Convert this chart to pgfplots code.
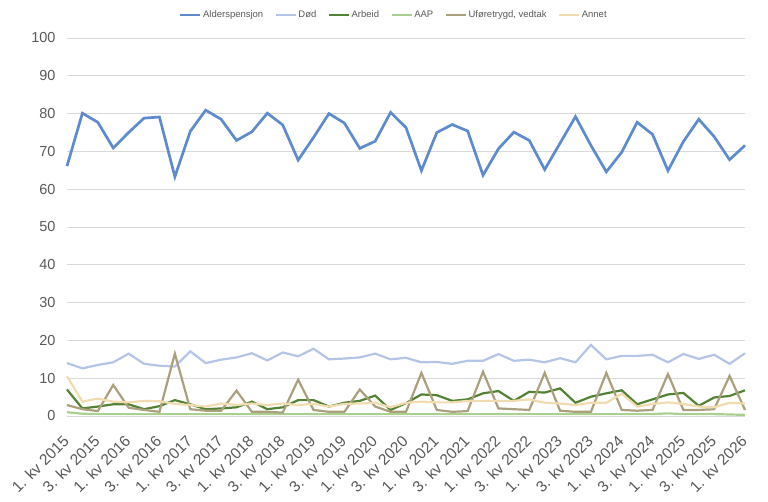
\documentclass[border=0pt]{standalone}
\usepackage{pgfplots}
\pgfplotsset{compat=1.18}
\usepackage{fontspec}
\setmainfont{Liberation Sans}
\definecolor{cAlder}{RGB}{94,139,206}
\definecolor{cDod}{RGB}{180,197,231}
\definecolor{cArbeid}{RGB}{84,130,53}
\definecolor{cAAP}{RGB}{169,208,142}
\definecolor{cUfore}{RGB}{170,160,125}
\definecolor{cAnnet}{RGB}{240,220,175}
\definecolor{labgray}{RGB}{89,89,89}
\definecolor{gridgray}{RGB}{217,217,217}

\pgfplotstableread{
x alder dod arbeid aap ufore annet
0 66.1 14.0 7.0 1.0 2.9 10.5
1 80.1 12.6 2.0 0.6 1.8 3.8
2 77.7 13.5 2.5 0.5 1.3 4.6
3 70.9 14.2 3.1 0.5 8.2 3.8
4 75.0 16.5 3.1 0.5 2.2 3.6
5 78.8 13.8 1.8 0.5 1.6 4.0
6 79.1 13.3 2.6 0.5 1.1 3.9
7 63.3 13.1 4.2 0.5 16.5 3.2
8 75.3 17.1 3.1 0.5 1.8 2.9
9 80.9 14.0 1.8 0.5 1.4 2.5
10 78.5 14.9 2.0 0.5 1.4 3.3
11 72.9 15.5 2.3 0.5 6.7 2.9
12 75.2 16.6 3.8 0.5 1.1 3.3
13 80.1 14.7 1.8 0.5 1.1 2.9
14 77.0 16.8 2.3 0.5 0.9 3.3
15 67.7 15.8 4.2 0.5 9.6 2.9
16 73.7 17.8 4.2 0.5 1.6 3.2
17 80.0 15.0 2.5 0.5 1.1 2.5
18 77.5 15.2 3.5 0.5 1.1 3.2
19 70.8 15.5 4.0 0.5 7.0 3.3
20 72.7 16.5 5.4 0.5 2.5 3.5
21 80.3 15.0 1.6 0.5 1.1 2.3
22 76.3 15.4 3.4 0.5 1.1 3.5
23 64.9 14.2 5.7 0.5 11.4 3.8
24 75.0 14.3 5.5 0.5 1.6 3.6
25 77.1 13.8 4.0 0.5 1.1 3.6
26 75.4 14.6 4.4 0.5 1.3 4.0
27 63.7 14.6 6.0 0.5 11.7 4.0
28 70.7 16.4 6.6 0.5 2.0 4.0
29 75.1 14.6 4.0 0.5 1.8 4.0
30 72.9 14.9 6.4 0.5 1.6 4.4
31 65.2 14.2 6.2 0.5 11.4 3.5
32 72.2 15.3 7.3 0.5 1.4 3.3
33 79.2 14.2 3.5 0.5 1.1 2.9
34 71.6 18.8 5.1 0.5 1.1 3.5
35 64.6 15.0 6.0 0.5 11.4 3.5
36 69.8 15.9 6.8 0.5 1.6 5.9
37 77.7 15.9 3.1 0.5 1.4 2.5
38 74.5 16.2 4.4 0.5 1.6 3.2
39 64.9 14.2 5.7 0.7 11.1 3.6
40 72.6 16.4 6.1 0.5 1.6 3.2
41 78.5 15.1 2.7 0.5 1.6 2.5
42 73.9 16.2 4.9 0.5 1.8 2.3
43 67.8 13.8 5.3 0.4 10.6 3.5
44 71.6 16.6 6.8 0.3 1.6 3.3
}\datatable

\begin{document}
\begin{tikzpicture}[x=1pt,y=1pt]
\path[use as bounding box] (0,0) rectangle (768,501);
\begin{axis}[
  at={(67pt,85pt)}, anchor=south west,
  scale only axis, width=678pt, height=378pt,
  xmin=0, xmax=44, ymin=0, ymax=100,
  clip=false,
  axis line style={draw=none},
  major tick length=0pt,
  ymajorgrids, grid style={color=gridgray, line width=0.8pt},
  ytick={0,10,...,100},
  xtick={0,2,...,44},
  xticklabels={1. kv 2015,3. kv 2015,1. kv 2016,3. kv 2016,1. kv 2017,3. kv 2017,1. kv 2018,3. kv 2018,1. kv 2019,3. kv 2019,1. kv 2020,3. kv 2020,1. kv 2021,3. kv 2021,1. kv 2022,3. kv 2022,1. kv 2023,3. kv 2023,1. kv 2024,3. kv 2024,1. kv 2025,3. kv 2025,1. kv 2026},
  /pgf/number format/assume math mode=true,
  yticklabel style={font=\fontsize{14.5}{16}\selectfont, text=labgray, xshift=-8pt},
  xticklabel style={font=\fontsize{15.5}{17}\selectfont, text=labgray, xshift=-5pt, rotate=45, anchor=north east, inner sep=0pt},
  xticklabel shift=18pt,
  legend columns=-1,
  legend style={at={(0.4816,1.061)}, anchor=center, draw=none, fill=none,
    font=\fontsize{9.5}{11}\selectfont, text=labgray,
    nodes={inner sep=1.5pt},
    /tikz/every even column/.append style={column sep=10pt}},
  legend image code/.code={\draw[#1] (0pt,0pt) -- (20pt,0pt);},
]
\addplot[cAlder, line width=2.7pt] table[x=x,y=alder] {\datatable};
\addlegendentry{Alderspensjon}
\addplot[cDod, line width=2.2pt] table[x=x,y=dod] {\datatable};
\addlegendentry{Død}
\addplot[cArbeid, line width=2.2pt] table[x=x,y=arbeid] {\datatable};
\addlegendentry{Arbeid}
\addplot[cAAP, line width=2.2pt] table[x=x,y=aap] {\datatable};
\addlegendentry{AAP}
\addplot[cUfore, line width=2.2pt] table[x=x,y=ufore] {\datatable};
\addlegendentry{Uføretrygd, vedtak}
\addplot[cAnnet, line width=2.2pt] table[x=x,y=annet] {\datatable};
\addlegendentry{Annet}
\end{axis}
\end{tikzpicture}
\end{document}
